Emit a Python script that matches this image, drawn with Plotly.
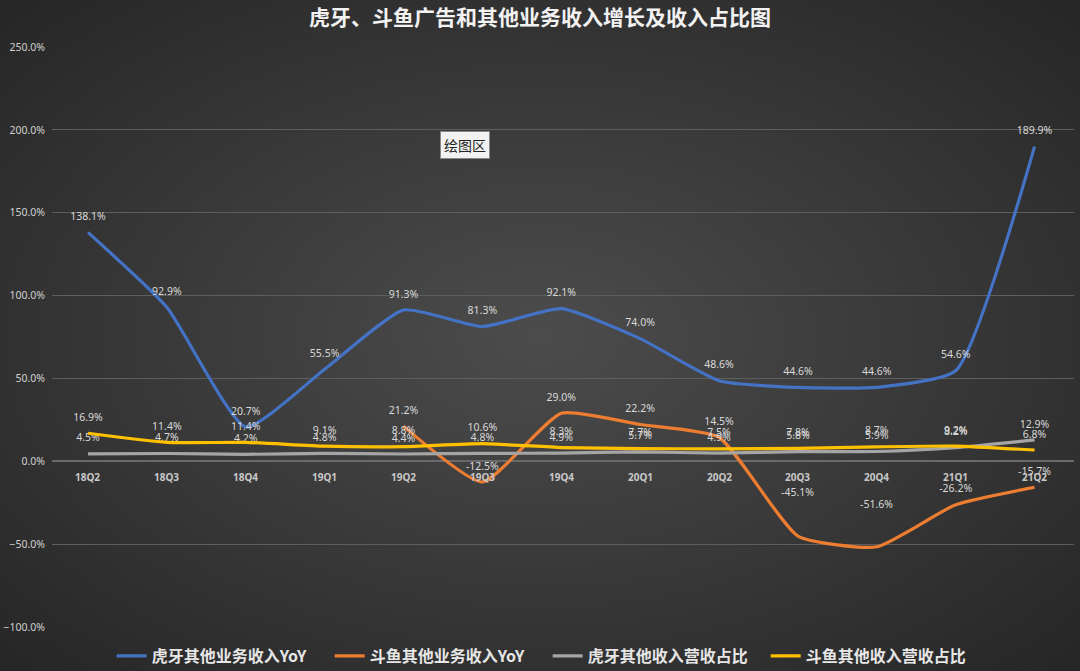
import base64
import plotly.graph_objects as go

quarters = ["18Q2", "18Q3", "18Q4", "19Q1", "19Q2", "19Q3", "19Q4",
            "20Q1", "20Q2", "20Q3", "20Q4", "21Q1", "21Q2"]

huya_yoy = [138.1, 92.9, 20.7, 55.5, 91.3, 81.3, 92.1, 74.0, 48.6, 44.6, 44.6, 54.6, 189.9]
douyu_yoy = [None, None, None, None, 21.2, -12.5, 29.0, 22.2, 14.5, -45.1, -51.6, -26.2, -15.7]
huya_share = [4.5, 4.7, 4.2, 4.8, 4.4, 4.8, 4.9, 5.7, 4.9, 5.8, 5.9, 8.2, 12.9]
douyu_share = [16.9, 11.4, 11.4, 9.1, 8.8, 10.6, 8.3, 7.7, 7.5, 7.8, 8.7, 9.2, 6.8]

series = [
    ("虎牙其他业务收入YoY", huya_yoy, "#4472C4"),
    ("斗鱼其他业务收入YoY", douyu_yoy, "#ED7D31"),
    ("虎牙其他收入营收占比", huya_share, "#A5A5A5"),
    ("斗鱼其他收入营收占比", douyu_share, "#FFC000"),
]

# labels that were dragged higher in the original chart (extra px)
label_lift = {("斗鱼其他业务收入YoY", "20Q3"): 44, ("斗鱼其他业务收入YoY", "20Q4"): 43}

cjk = "Noto Sans CJK SC"
label_font = dict(family="Noto Sans", size=10.5, color="#d9d9d9")

# radial background like the excel dark theme
svg = """<svg xmlns='http://www.w3.org/2000/svg' width='1080' height='671'>
<defs><radialGradient id='g' cx='50%' cy='50%' r='70%'>
<stop offset='0%' stop-color='#4c4c4c'/><stop offset='100%' stop-color='#262626'/>
</radialGradient></defs><rect width='1080' height='671' fill='url(#g)'/></svg>"""
bg_src = "data:image/svg+xml;base64," + base64.b64encode(svg.encode()).decode()

fig = go.Figure()
for name, vals, color in series:
    texts = []
    for q, v in zip(quarters, vals):
        if v is None:
            texts.append(None)
        elif (name, q) in label_lift:
            texts.append(None)
            fig.add_annotation(x=q, y=v, yshift=label_lift[(name, q)], text=f"{v:.1f}%",
                               showarrow=False, font=label_font)
        else:
            texts.append(f"{v:.1f}%")
    fig.add_trace(go.Scatter(
        x=quarters, y=vals, name=name,
        mode="lines+markers+text",
        line=dict(color=color, width=3.2, shape="spline", smoothing=0.5),
        marker=dict(size=14, color="rgba(0,0,0,0)"),
        text=texts,
        textposition="top center",
        textfont=label_font,
        connectgaps=False,
    ))

for q in quarters:
    fig.add_annotation(x=q, y=0, yshift=-16, text=f"<b>{q}</b>", showarrow=False,
                       font=dict(family="Noto Sans", size=10, color="#c8c8c8"))

fig.add_annotation(x=0.404, y=0.855, xref="paper", yref="paper", text="绘图区",
                   showarrow=False, bgcolor="#f2f2f2", bordercolor="#888888",
                   borderwidth=1, borderpad=3,
                   font=dict(family=cjk, size=14, color="#222222"))

fig.update_layout(
    width=1080, height=671,
    margin=dict(l=52, r=6, t=47, b=44, autoexpand=False),
    paper_bgcolor="#333333",
    plot_bgcolor="rgba(0,0,0,0)",
    images=[dict(source=bg_src, xref="paper", yref="paper", x=-0.052, y=1.081,
                 sizex=1.059, sizey=1.157, sizing="stretch", layer="below",
                 xanchor="left", yanchor="top")],
    title=dict(text="<b>虎牙、斗鱼广告和其他业务收入增长及收入占比图</b>",
               x=0.5, xanchor="center", y=0.974, yanchor="middle",
               font=dict(family=cjk, size=21, color="#f2f2f2")),
    showlegend=True,
    legend=dict(orientation="h", x=0.485, xanchor="center", y=-0.05, yanchor="middle",
                font=dict(family=cjk, size=16, color="#e6e6e6", weight="bold"),
                itemwidth=30, entrywidth=173, bgcolor="rgba(0,0,0,0)"),
    xaxis=dict(type="category", showgrid=False, showticklabels=False,
               zeroline=False, showline=False, range=[-0.456, 12.5]),
    yaxis=dict(range=[-100, 250], dtick=50, tickformat=".1f", ticksuffix="%",
               gridcolor="#5e5e5e", gridwidth=1, zeroline=True,
               zerolinecolor="#6a6a6a", zerolinewidth=1.5,
               tickfont=dict(family="Noto Sans", size=10.5, color="#d0d0d0"),
               ticklabelstandoff=6, showline=False),
)

fig.write_html("out.html", config={"displayModeBar": False},
               post_script="document.body.style.margin='0';")
